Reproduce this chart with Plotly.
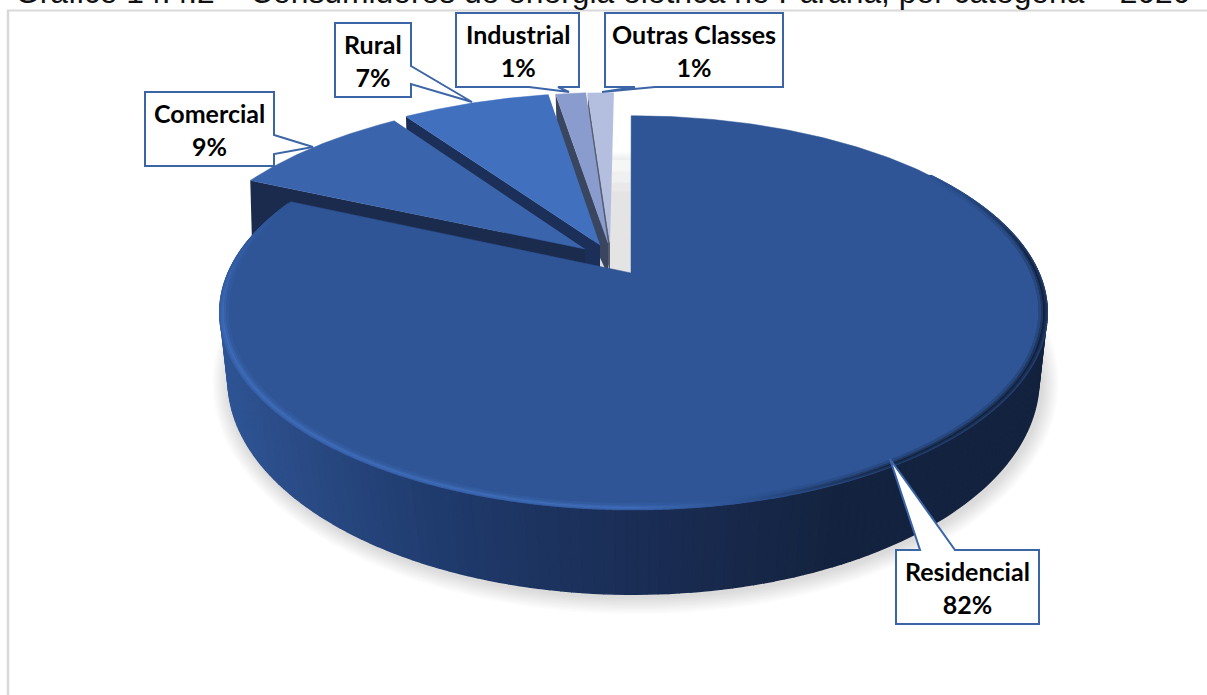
import numpy as np
import plotly.graph_objects as go

# ---- data
categories = ["Residencial", "Comercial", "Rural", "Industrial", "Outras Classes"]
values = [81.6, 8.6, 7.0, 1.45, 1.25]
title_text = "Gráfico 14.4.2 – Consumidores de energia elétrica no Paraná, por categoria – 2020"

# ---- style
top_colors = ["#2f5596", "#3a64ab", "#4170bf", "#8a9cce", "#b4bedf"]
face_colors = ["#1a2b4d", "#1a2b4d", "#1b2f58", "#3a4560", "#565c6f"]
apex_px = [(631, 273), (585, 249), (600, 245), (608, 243), (610, 243)]
slice_scale = [1.0, 1.015, 1.028, 1.02, 1.018]

# projective view of the pie disc: top face and bottom face
TOP = dict(cx=633.5, b=273.0, a=-133.9, c=0.201, R=405.0)
BOT = dict(cx=633.5, b=345.0, a=-152.0, c=0.1636, R=400.0)


def project(u, v, P):
    w = P["c"] * v + 1
    return P["cx"] + P["R"] * u / w, (P["a"] * v + P["b"]) / w


def unproject(X, Y, P):
    v = (Y - P["b"]) / (P["a"] - P["c"] * Y)
    return (X - P["cx"]) * (P["c"] * v + 1) / P["R"], v


total = sum(values)
edges = np.concatenate([[0], np.cumsum(values)]) / total * 360.0
offsets = [unproject(px, py, TOP) for px, py in apex_px]


def sector(i, P, n=200):
    th = np.radians(np.linspace(edges[i], edges[i + 1], n))
    u0, v0 = offsets[i]
    s = slice_scale[i]
    return project(u0 + s * np.sin(th), v0 + s * np.cos(th), P)


def hexmix(c1, c2, t):
    a = np.array([int(c1[j:j + 2], 16) for j in (1, 3, 5)], float)
    b = np.array([int(c2[j:j + 2], 16) for j in (1, 3, 5)], float)
    m = a + (b - a) * t
    return "#%02x%02x%02x" % tuple(int(round(x)) for x in m)


def poly(x, y, color, lw=0.0, opacity=1.0):
    return go.Scatter(x=np.asarray(x), y=np.asarray(y), mode="lines", fill="toself",
                      fillcolor=color, opacity=opacity,
                      line=dict(color=color, width=lw), hoverinfo="skip", showlegend=False)


fig = go.Figure()

# soft shadow under the pie
t = np.linspace(0, 2 * np.pi, 240)
for k in range(9, 0, -1):
    sx = BOT["cx"] + 2 + (406 + k * 1.9) * np.cos(t)
    sy = 380 + 3 + (214 + k * 1.9) * np.sin(t)
    fig.add_trace(poly(sx, sy, "#000000", opacity=0.017))

# pale shading in the gap beside the residential slice
ox, oy = project(offsets[4][0], offsets[4][1], TOP)
gx0, gx1 = ox, apex_px[0][0]
for frac, col in [(0.0, "#f6f6f6"), (0.1, "#f0f0f0"), (0.2, "#e9e9e9"), (0.28, "#e4e4e4")]:
    ytop = 160 + frac * 112
    fig.add_trace(poly([gx0, gx1, gx1, gx0], [ytop, ytop, 280, 280], col))

# small slices, back to front
for i in [4, 3, 2, 1]:
    tx, ty = sector(i, TOP)
    ax, ay = project(*offsets[i], TOP)
    # radial cut face on the left edge of the slice (start of its clockwise sweep)
    fig.add_trace(poly([ax, tx[0], tx[0] + 2, ax], [ay, ty[0], ty[0] + 72, ay + 32], face_colors[i]))
    fig.add_trace(poly(np.r_[ax, tx], np.r_[ay, ty], top_colors[i], lw=0.5))

# residential side wall: strips with a left-to-right shade
wall_stops = [(220, "#2f5596"), (300, "#2a4b86"), (450, "#1f3a6c"), (640, "#1a2d55"), (850, "#13223e"), (1050, "#13223e")]


def wall_color(x):
    for (x0, c0), (x1, c1) in zip(wall_stops[:-1], wall_stops[1:]):
        if x <= x1:
            return hexmix(c0, c1, max(0.0, (x - x0) / (x1 - x0)))
    return wall_stops[-1][1]


th = np.radians(np.linspace(60, edges[1], 181))
ux, vy = np.sin(th), np.cos(th)
tpx, tpy = project(ux, vy, TOP)
bpx, bpy = project(ux, vy, BOT)
for j in range(len(th) - 1):
    fig.add_trace(poly([tpx[j], tpx[j + 1], bpx[j + 1], bpx[j]],
                       [tpy[j], tpy[j + 1], bpy[j + 1], bpy[j]],
                       wall_color((tpx[j] + bpx[j]) / 2), lw=1.5))

# residential top face
th = np.radians(np.linspace(edges[0] - 0.4, edges[1], 400))
tx, ty = project(np.sin(th), np.cos(th), TOP)
ax, ay = apex_px[0]
fig.add_trace(poly(np.r_[ax, tx, ax], np.r_[ay, ty, ay], top_colors[0], lw=0.5))

# soft bevel along the front rim: rings from the edge inwards
th = np.radians(np.linspace(55, edges[1] - 1, 1400))
rings = [(0.9995, 0.45, 2.5), (0.996, 0.75, 2.5), (0.992, 1.0, 2.5), (0.988, 0.6, 2.5), (0.983, 0.25, 2.5)]
for rad, strength, size in rings:
    bx, by = project(rad * np.sin(th), rad * np.cos(th), TOP)
    cols = []
    for x, ang in zip(bx, th):
        s = (x - 220) / 827
        if s < 0.5:
            target = "#3f6cb8"
        elif s < 0.62:
            target = hexmix("#3f6cb8", top_colors[0], (s - 0.5) / 0.12)
        else:
            target = hexmix(top_colors[0], "#14243f", min(1, (s - 0.62) / 0.2))
        fade = min(1.0, (np.degrees(ang) - 55) / 30) * min(1.0, (edges[1] - np.degrees(ang)) / 40)
        cols.append(hexmix(top_colors[0], target, strength * max(fade, 0)))
    fig.add_trace(go.Scatter(x=bx, y=by, mode="markers", hoverinfo="skip", showlegend=False,
                             marker=dict(size=size, color=cols, line=dict(width=0))))

# callouts
callouts = [
    ((896, 550, 1039, 624), "M896,550 L920,550 L890,459 L955,550 L1039,550 L1039,624 L896,624 Z"),
    ((145, 92, 274, 166), "M145,92 L274,92 L274,135 L313,147 L274,154 L274,166 L145,166 Z"),
    ((335, 23, 411, 97), "M335,23 L411,23 L411,66 L472,102 L411,84 L411,97 L335,97 Z"),
    ((456, 13, 579, 87), "M456,13 L579,13 L579,87 L558,87 L569,92 L529,87 L456,87 Z"),
    ((605, 13, 783, 87), "M605,13 L783,13 L783,87 L655,87 L602,92 L635,87 L605,87 Z"),
]
shapes = [
    dict(type="line", x0=8, x1=8, y0=10, y1=695, line=dict(color="#d9d9d9", width=2.5), layer="below"),
    dict(type="line", x0=7, x1=1207, y0=10.5, y1=10.5, line=dict(color="#d9d9d9", width=2), layer="below"),
]
annotations = [
    dict(text=title_text, x=13, y=12.5, xref="x", yref="y", xanchor="left", yanchor="bottom", showarrow=False,
         font=dict(family="Liberation Sans, Arial", size=31.8, color="#111111")),
]
for name, value, (box, path) in zip(categories, values, callouts):
    shapes.append(dict(type="path", path=path, fillcolor="#ffffff", line=dict(color="#3c65a8", width=2), layer="above"))
    annotations.append(dict(text=f"<b>{name}<br>{round(value)}%</b>", x=(box[0] + box[2]) / 2, y=(box[1] + box[3]) / 2,
                            xref="x", yref="y", xanchor="center", yanchor="middle", showarrow=False,
                            font=dict(family="Lato, Calibri", size=25, color="#000000")))

fig.update_layout(
    width=1207, height=695, margin=dict(l=0, r=0, t=0, b=0),
    paper_bgcolor="#ffffff", plot_bgcolor="#ffffff", showlegend=False,
    xaxis=dict(range=[0, 1207], visible=False, fixedrange=True),
    yaxis=dict(range=[695, 0], visible=False, fixedrange=True),
    shapes=shapes, annotations=annotations,
)
fig.write_html("out.html", config=dict(displayModeBar=False),
               post_script="document.body.style.margin='0';document.documentElement.style.overflow='hidden';")
